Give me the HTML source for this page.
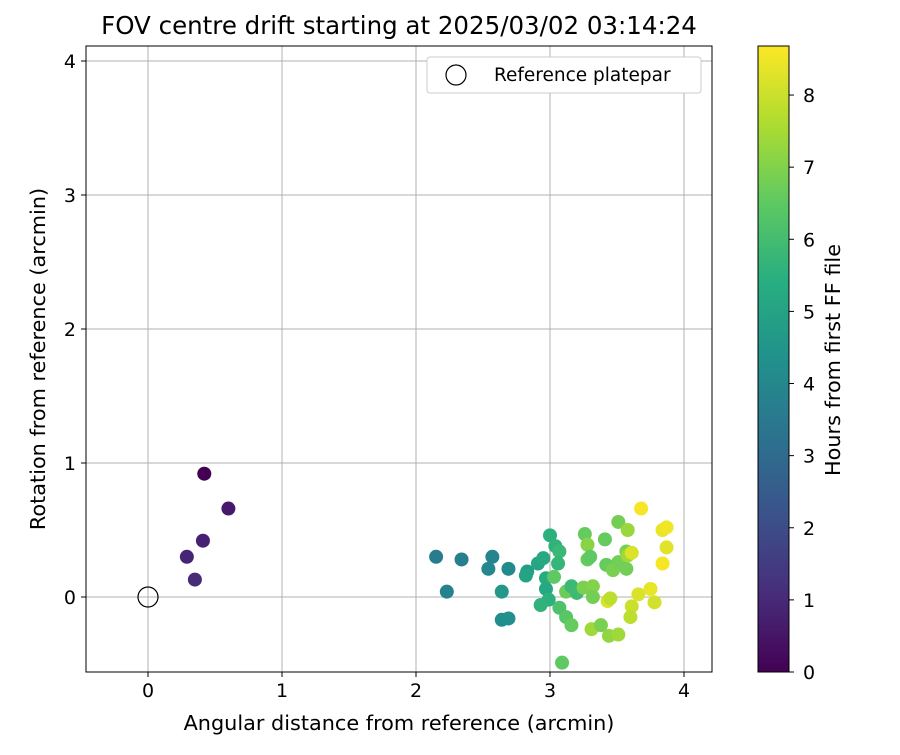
<!DOCTYPE html>
<html><head><meta charset="utf-8"><style>
body{margin:0;background:#fff;font-family:"Liberation Sans","DejaVu Sans",sans-serif}
svg text{font-family:"DejaVu Sans","Liberation Sans",sans-serif;fill:#000}
</style></head><body>
<svg id="chart" width="900" height="750" xmlns="http://www.w3.org/2000/svg">
<defs><linearGradient id="vir" x1="0" y1="1" x2="0" y2="0">
<stop offset="0" stop-color="#440154"/><stop offset="0.125" stop-color="#472d7b"/><stop offset="0.25" stop-color="#3b528b"/><stop offset="0.375" stop-color="#2c728e"/><stop offset="0.5" stop-color="#21918c"/><stop offset="0.625" stop-color="#28ae80"/><stop offset="0.75" stop-color="#5ec962"/><stop offset="0.875" stop-color="#addc30"/><stop offset="1" stop-color="#fde725"/></linearGradient></defs>
<rect width="900" height="750" fill="#fff"/>
<text x="399" y="34" style="font-size:24.5px" text-anchor="middle">FOV centre drift starting at 2025/03/02 03:14:24</text>
<g id="grid"></g><g id="pts"></g>
<rect x="86" y="46" width="626" height="626" fill="none" stroke="#000" stroke-width="1"/>
<g id="ticks"></g>
<text x="399" y="730" style="font-size:20.8px" text-anchor="middle">Angular distance from reference (arcmin)</text>
<text transform="translate(45,359) rotate(-90)" style="font-size:20.8px" text-anchor="middle">Rotation from reference (arcmin)</text>
<g>
<rect x="427" y="57" width="274" height="36" rx="3" fill="#fff" stroke="#ccc"/>
<circle cx="456" cy="75" r="10" fill="none" stroke="#000" stroke-width="1.2"/>
<text x="494" y="81" style="font-size:18.5px">Reference platepar</text></g>
<rect x="758" y="46" width="31" height="626" fill="url(#vir)" stroke="#000" stroke-width="1"/>
<g id="cbt"></g>
<text transform="translate(840,360) rotate(-90)" style="font-size:20.8px" text-anchor="middle">Hours from first FF file</text>
</svg>
<script>
const xTicks=[0,1,2,3,4];
const yTicks=[0,1,2,3,4];
const cbTicks=[0,1,2,3,4,5,6,7,8];
const xs=[0.42,0.60,0.41,0.29,0.35,2.15,2.34,2.23,2.57,2.54,2.69,2.64,2.64,2.69,2.83,2.82,2.91,2.95,3.00,3.04,3.07,3.06,2.97,2.97,2.99,2.93,3.03,3.07,3.09,3.12,3.16,3.12,3.16,3.20,3.26,3.28,3.28,3.30,3.25,3.32,3.32,3.31,3.38,3.41,3.42,3.47,3.44,3.43,3.45,3.51,3.51,3.57,3.58,3.57,3.58,3.61,3.51,3.61,3.60,3.66,3.68,3.75,3.78,3.84,3.87,3.87,3.84];
const ys=[0.92,0.66,0.42,0.30,0.13,0.30,0.28,0.04,0.30,0.21,0.21,0.04,-0.17,-0.16,0.19,0.16,0.25,0.29,0.46,0.38,0.34,0.25,0.14,0.06,-0.02,-0.06,0.15,-0.08,-0.49,0.04,0.08,-0.15,-0.21,0.03,0.47,0.39,0.28,0.30,0.07,0.08,0.00,-0.24,-0.21,0.43,0.24,0.20,-0.29,-0.03,-0.01,0.56,0.26,0.21,0.50,0.34,0.31,0.33,-0.28,-0.07,-0.15,0.02,0.66,0.06,-0.04,0.50,0.52,0.37,0.25];
const hours=[0.0,0.6,0.8,0.9,1.0,3.6,3.7,3.8,3.9,4.0,4.1,4.6,4.2,4.3,4.8,5.0,5.1,5.2,5.5,5.6,5.8,5.7,5.3,5.2,5.5,5.6,6.5,6.2,6.5,6.7,5.8,6.4,6.6,5.9,6.6,7.1,6.6,6.5,6.9,7.0,6.8,7.4,6.9,6.6,6.6,6.9,7.2,8.2,7.8,6.8,6.8,6.8,7.3,6.9,7.4,8.2,7.4,8.0,7.8,8.2,8.6,8.4,8.1,8.4,8.5,8.3,8.6];
const HMAX=8.68;
const sx=v=>148+v*134, sy=v=>597-v*134, sc=v=>672-v/HMAX*626;
const NS="http://www.w3.org/2000/svg";
function mk(t,a,p){const e=document.createElementNS(NS,t);for(const k in a)e.setAttribute(k,a[k]);p.appendChild(e);return e;}
const V=[[68,1,84],[71,45,123],[59,82,139],[44,114,142],[33,145,140],[40,174,128],[94,201,98],[173,220,48],[253,231,37]];
function vir(h){let t=Math.max(0,Math.min(1,h/HMAX))*8;let i=Math.min(7,Math.floor(t)),f=t-i;const c=V[i].map((a,k)=>Math.round(a+(V[i+1][k]-a)*f));return `rgb(${c})`;}
const g=document.getElementById('grid'),tk=document.getElementById('ticks'),pts=document.getElementById('pts'),cb=document.getElementById('cbt');
xTicks.forEach(v=>{
 const l=mk('line',{x1:sx(v),x2:sx(v),y1:46,y2:672,stroke:'#b0b0b0','stroke-width':1},g);
 
 mk('line',{x1:sx(v),x2:sx(v),y1:672,y2:677,stroke:'#000'},tk);
 const t=mk('text',{x:sx(v),y:697,style:'font-size:19px','text-anchor':'middle'},tk);t.textContent=v;
 
});
yTicks.forEach(v=>{
 const l=mk('line',{x1:86,x2:712,y1:sy(v),y2:sy(v),stroke:'#b0b0b0','stroke-width':1},g);
 
 mk('line',{x1:81,x2:86,y1:sy(v),y2:sy(v),stroke:'#000'},tk);
 const t=mk('text',{x:76,y:sy(v)+7,style:'font-size:19px','text-anchor':'end'},tk);t.textContent=v;
 
});
cbTicks.forEach(v=>{
 mk('line',{x1:789,x2:794,y1:sc(v),y2:sc(v),stroke:'#000'},cb);
 const t=mk('text',{x:803,y:sc(v)+7,style:'font-size:19px'},cb);t.textContent=v;
 
});
const ref=mk('circle',{cx:sx(0),cy:sy(0),r:10,fill:'none',stroke:'#000','stroke-width':1.2},pts);

xs.forEach((x,i)=>{
 const c=mk('circle',{cx:sx(x),cy:sy(ys[i]),r:7,fill:vir(hours[i])},pts);
 
 
});
</script>
</body></html>
